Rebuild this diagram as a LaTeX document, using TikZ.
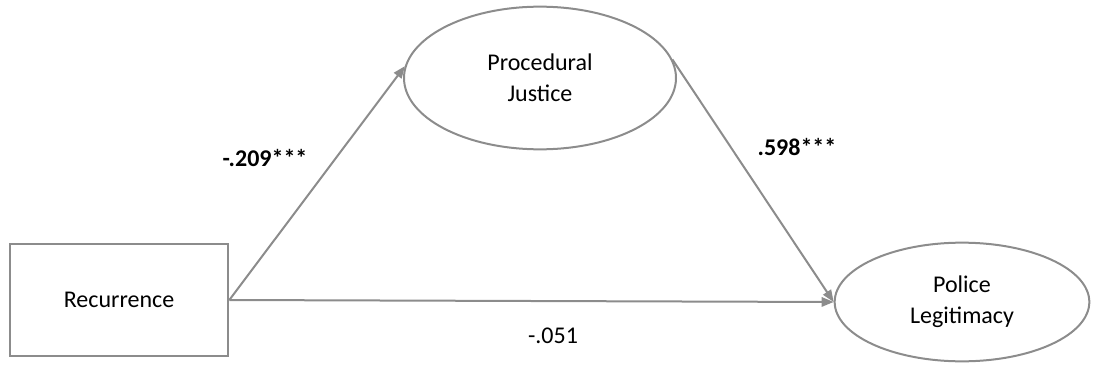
\documentclass[tikz,border=0pt]{standalone}
\usepackage{fontspec}
\setmainfont{Carlito}
\usetikzlibrary{arrows.meta,shapes.geometric}
\definecolor{linegray}{RGB}{140,140,140}
\tikzset{
  obsbox/.style={draw=linegray,line width=1.5pt,rectangle,minimum width=164pt,minimum height=84pt,font=\fontsize{18}{21}\selectfont},
  latent/.style={draw=linegray,line width=1.5pt,ellipse,inner sep=0pt,align=center,font=\fontsize{18}{23}\selectfont},
  pathto/.style={draw=linegray,line width=1.5pt,-{Triangle[length=9pt,width=7pt]}},
  coef/.style={font=\fontsize{18}{21}\selectfont}
}
\begin{document}
\begin{tikzpicture}[x=0.75pt,y=0.75pt]
    \useasboundingbox (0,0) rectangle (1093,365);
    % Left: predictor
    \node[obsbox] (rec) at (119,65) {Recurrence};
    % Top: mediator
    \node[latent,minimum width=204pt,minimum height=107pt] (pj) at (540,287) {Procedural\\Justice};
    % Right: outcome
    \node[latent,minimum width=191pt,minimum height=89pt] (pl) at (962,63) {Police\\Legitimacy};
    % Paths
    \draw[pathto] (rec.east) -- (pj.175);
    \draw[pathto] (pj.8) -- (pl.west);
    \draw[pathto] (rec.east) -- (pl.west);
    % Coefficients
    \node[coef] (a) at (265,207) {\textbf{-.209***}};
    \node[coef] (b) at (797,218) {\textbf{.598***}};
    \node[coef] (c) at (553,29) {-.051};
\end{tikzpicture}
\end{document}
